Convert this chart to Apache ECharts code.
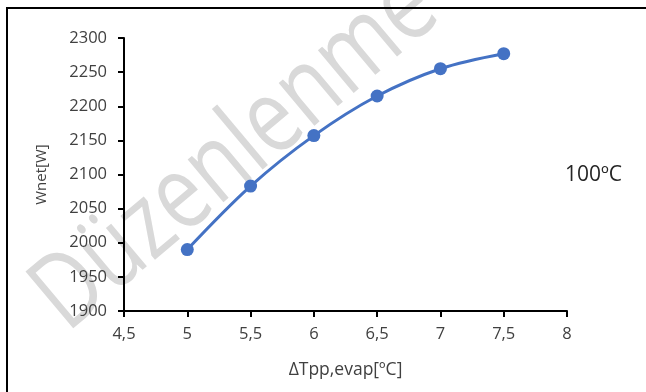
<!DOCTYPE html>
<html>
<head>
<meta charset="utf-8">
<script src="https://cdn.jsdelivr.net/npm/echarts@6/dist/echarts.min.js"></script>
<style>
  html, body { margin: 0; padding: 0; background: #fff; }
  #chart { width: 646px; height: 392px; }
</style>
</head>
<body>
<div id="chart"></div>
<script>
// Pinch-point temperature difference in the evaporator [°C]
const deltaTpp = [5, 5.5, 6, 6.5, 7, 7.5];
// Net power output [W]
const wnet = [1990, 2083, 2157, 2215, 2255, 2277];
// Axis ranges and steps
const xRange = [4.5, 8, 0.5];
const yRange = [1900, 2300, 50];
const caseLabel = '100ºC';
const watermark = 'Düzenlenme';

const font = '"Open Sans", "Noto Sans", sans-serif';
const labelColor = '#404040';

const chart = echarts.init(document.getElementById('chart'), null, { renderer: 'canvas' });

chart.setOption({
  animation: false,
  backgroundColor: '#ffffff',
  grid: { left: 124, right: 79, top: 38, bottom: 81 },
  xAxis: {
    type: 'value',
    min: xRange[0], max: xRange[1], interval: xRange[2],
    name: 'ΔTpp,evap[ºC]',
    nameLocation: 'middle',
    nameGap: 50,
    nameTextStyle: { fontFamily: font, fontSize: 17.5, color: '#404040' },
    axisLine: { show: true, onZero: false, lineStyle: { color: '#000', width: 2 } },
    axisTick: { show: true, length: 6, lineStyle: { color: '#000', width: 2 } },
    axisLabel: {
      margin: 15, fontFamily: font, fontSize: 16.5, color: labelColor,
      formatter: v => String(v).replace('.', ',')
    },
    splitLine: { show: false }
  },
  yAxis: {
    type: 'value',
    min: yRange[0], max: yRange[1], interval: yRange[2],
    name: 'Wnet[W]',
    nameLocation: 'middle',
    nameGap: 75,
    nameTextStyle: { fontFamily: font, fontSize: 15, color: '#404040' },
    axisLine: { show: true, lineStyle: { color: '#000', width: 2 } },
    axisTick: { show: true, length: 6, lineStyle: { color: '#000', width: 2 } },
    axisLabel: {
      margin: 17, fontFamily: font, fontSize: 16.5, color: labelColor,
      formatter: v => String(v)
    },
    splitLine: { show: false }
  },
  series: [{
    type: 'line',
    data: deltaTpp.map((x, i) => [x, wnet[i]]),
    smooth: 0.35,
    symbol: 'circle',
    symbolSize: 13,
    z: 5,
    lineStyle: { color: '#4472C4', width: 3 },
    itemStyle: { color: '#4472C4' }
  }],
  graphic: [
    {
      type: 'text',
      z: -10,
      x: 236, y: 153,
      rotation: 40 * Math.PI / 180,
      scaleX: 0.8,
      style: {
        text: watermark,
        fontFamily: font,
        fontWeight: 500,
        fontSize: 104,
        fill: '#d9d9d9',
        textAlign: 'center',
        textVerticalAlign: 'middle'
      }
    },
    {
      type: 'rect',
      z: 10,
      shape: { x: 7, y: 8, width: 720, height: 500 },
      style: { fill: null, stroke: '#000', lineWidth: 2 }
    },
    {
      type: 'text',
      z: 10,
      x: 565, y: 175,
      style: {
        text: caseLabel,
        fontFamily: font,
        fontSize: 21,
        fill: '#262626',
        textVerticalAlign: 'middle'
      }
    }
  ]
});
</script>
</body>
</html>
